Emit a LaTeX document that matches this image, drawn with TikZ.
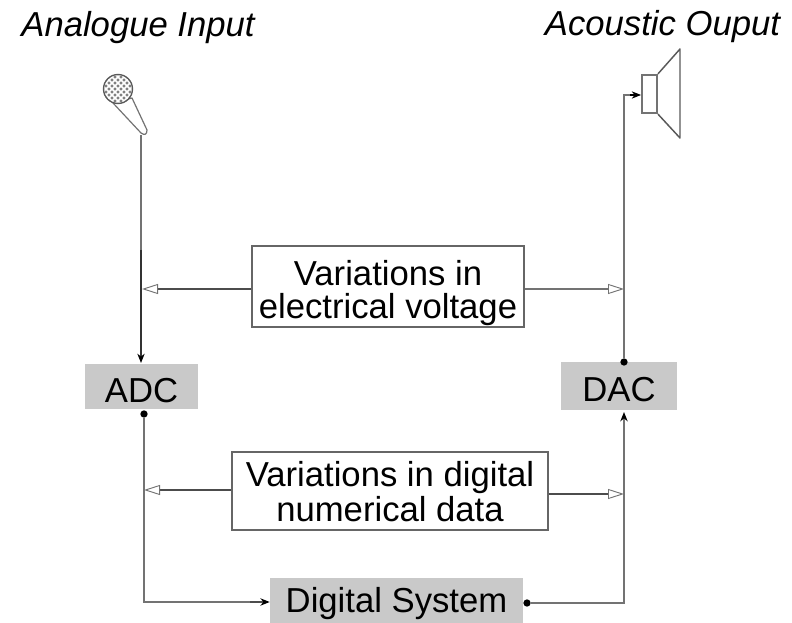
\documentclass[tikz,border=0pt]{standalone}
\usepackage{fontspec}
\setmainfont{Liberation Sans}
\usetikzlibrary{arrows.meta,positioning}
\definecolor{linegrey}{gray}{0.45}
\definecolor{boxgrey}{gray}{0.79}
\tikzset{
  x=0.75pt,y=-0.75pt,
  wire/.style={draw=linegrey,line width=1.7pt},
  thin wire/.style={draw=black!70,line width=1.1pt},
  solidtip/.style={-{Stealth[length=7pt,width=5.5pt,black]}},
  opentip/.style={-{Triangle[open,length=12pt,width=7.5pt,fill=white,color=linegrey,line width=0.7pt]}},
  labelbox/.style={draw=black!60,line width=1.3pt,fill=white,align=center,inner sep=0pt},
  greybox/.style={fill=boxgrey,inner sep=0pt,font=\fontsize{26}{30}\selectfont,text depth=0pt},
  title/.style={inner sep=0pt,font=\fontsize{26}{30}\selectfont\itshape,anchor=base},
  dot/.style={circle,fill=black,inner sep=0pt,minimum size=5.5pt}
}
\begin{document}
\begin{tikzpicture}
\useasboundingbox (0,0) rectangle (792,623);
\node[title] (inlabel) at (138,37) {Analogue Input};
\node[title] (outlabel) at (662.5,36) {Acoustic Ouput};

\node[greybox,text height=24.7pt,minimum width=84.75pt,minimum height=33.75pt] (adc) at (141.5,386.5) {ADC};
\node[greybox,text height=22.5pt,minimum width=87pt,minimum height=36pt] (dac) at (619,386) {DAC};
\node[greybox,text height=18.7pt,minimum width=189.75pt,minimum height=33.75pt] (sys) at (396.5,600.5) {Digital System};
\node[labelbox,font=\fontsize{26}{25}\selectfont,minimum width=204pt,minimum height=60.75pt] (volt) at (388,286.5) {\rule{0pt}{28.3pt}Variations in\\electrical voltage};
\node[labelbox,font=\fontsize{26}{26.25}\selectfont,minimum width=237pt,minimum height=58.5pt] (data) at (390,491) {\rule{0pt}{20.25pt}Variations in digital\\numerical data};

% microphone
\coordinate (mictop) at (141,135);
\draw[draw=black!55,line width=0.9pt,fill=white,line join=round] (113,103) -- (141,133) .. controls (145,136) and (147,134) .. (147,130) -- (132,98) -- cycle;
\begin{scope}
  \clip (118,89) circle[radius=14.5];
  \fill[black!50] (118,89) circle[radius=14.5];
  \foreach \k in {-30,-24,...,30}{
    \draw[white,line width=1.2pt] (88+\k,59) -- ++(60,60);
    \draw[white,line width=1.2pt] (148+\k,59) -- ++(-60,60);
  }
\end{scope}
\draw[black!65,line width=1pt] (118,89) circle[radius=14.5];

% speaker
\node[draw=linegrey,line width=1.7pt,minimum width=11pt,minimum height=28.5pt,inner sep=0pt] (spk) at (649.5,94) {};
\draw[draw=black!65,line width=1.1pt,line join=round] (spk.north east) -- (680,49) -- (680,138) -- (spk.south east);

% main wires
\coordinate (adctop) at (141,363);
\draw[wire] (mictop) -- (141,250);
\draw[draw=black!80,line width=0.9pt,solidtip] (141,250) -- (adctop);

\node[dot] (adcdot) at (144,414) {};
\coordinate (leftcorner) at (144,602);
\draw[wire] (adcdot) -- (leftcorner) -- (250,602);
\draw[thin wire,solidtip] (250,602) -- (sys.west |- leftcorner);

\node[dot] (sysdot) at (527,603) {};
\coordinate (rightcorner) at (624,603);
\coordinate (dacin) at (624,412);
\draw[wire] (sysdot) -- (rightcorner) -- (624,425);
\draw[draw=linegrey,line width=1.7pt,solidtip] (624,430) -- (dacin);

\node[dot] (dacdot) at (624,362) {};
\coordinate (spkcorner) at (624,95);
\draw[wire] (dacdot) -- (spkcorner) -- (633,95);
\draw[draw=black,line width=0.9pt,solidtip] (630,95) -- (spk.west |- spkcorner);

% label arrows
\coordinate (lv) at (142,289);
\coordinate (rv) at (624,289);
\coordinate (ld) at (144,490);
\coordinate (rd) at (624,494);
\draw[thin wire,opentip] (volt.west |- lv) -- (lv);
\draw[draw=linegrey,line width=1.4pt,opentip] (volt.east |- rv) -- (rv);
\draw[thin wire,opentip] (data.west |- ld) -- (ld);
\draw[thin wire,opentip] (data.east |- rd) -- (rd);
\end{tikzpicture}
\end{document}
